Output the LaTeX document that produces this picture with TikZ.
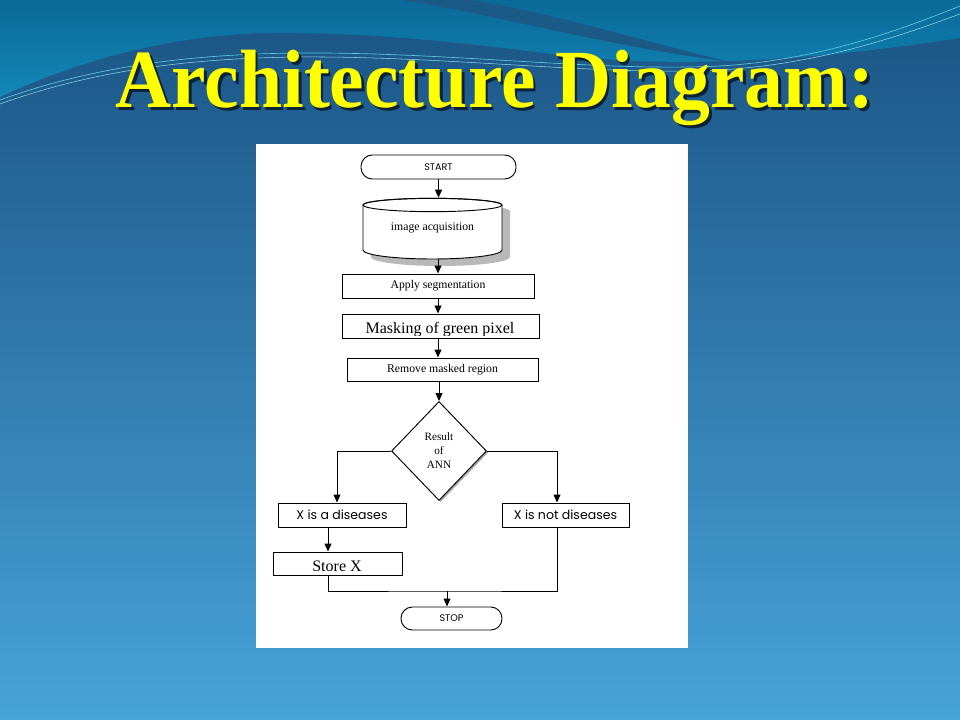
\documentclass[tikz,border=0pt]{standalone}
\usepackage{fontspec}
\setmainfont{Liberation Serif}
\newfontfamily\gothic{Poppins}
\usetikzlibrary{arrows.meta,shapes.geometric,shadows}
\definecolor{bgtop}{HTML}{1A5383}
\definecolor{bgmid}{HTML}{2E7DB3}
\definecolor{bgbot}{HTML}{48A3D9}
\definecolor{tealtop}{HTML}{0A6A99}
\definecolor{tealbot}{HTML}{1388B8}
\definecolor{swoosh}{HTML}{1B5A86}
\definecolor{wline}{HTML}{5CC8DC}
\definecolor{titley}{HTML}{FFFF00}
\definecolor{titlesh}{HTML}{0B2238}
\newcommand{\titletext}{\scalebox{0.94}[1]{Architecture Diagram:}}
\begin{document}
\begin{tikzpicture}[x=0.75pt,y=-0.75pt,
  ln/.style={line width=0.7pt},
  box/.style={draw,ln,fill=white,inner sep=0pt,minimum height=18pt,font=\fontsize{8.8}{10}\selectfont},
  term/.style={box,rounded corners=8.5pt,font=\gothic\fontsize{7.2}{9}\selectfont},
  sbox/.style={box,font=\gothic\fontsize{9.4}{11}\selectfont},
  arr/.style={ln,-{Triangle[length=6pt,width=5.2pt]}},
  titlef/.style={font=\bfseries\fontsize{62}{70}\selectfont}]
\useasboundingbox (0,0) rectangle (960,720);
% background
\shade[top color=bgtop, middle color=bgmid, bottom color=bgbot] (0,0) rectangle (960,720);
\shade[top color=tealtop, bottom color=tealbot]
  (0,0) -- (0,97) .. controls (80,60) and (170,35) .. (270,33)
  .. controls (380,32) and (480,45) .. (560,55)
  .. controls (650,66) and (780,66) .. (960,38) -- (960,0) -- cycle;
\fill[swoosh] (400,0) .. controls (500,15) and (600,45) .. (730,62)
  .. controls (620,35) and (540,10) .. (470,0) -- cycle;
\draw[wline, line width=0.5pt] (0,100) .. controls (100,64) and (200,54) .. (300,53)
  .. controls (450,52) and (600,72) .. (720,66) .. controls (820,60) and (900,30) .. (960,6);
\draw[wline!70!white, line width=0.4pt] (0,104) .. controls (100,68) and (200,58) .. (300,57)
  .. controls (450,56) and (600,76) .. (720,70) .. controls (820,64) and (900,36) .. (960,14);
% title (shadow drawn inside the same node)
\node[anchor=base, titlef, text=titley, inner sep=0pt] (title) at (495,108)
  {\makebox[0pt][l]{\hspace{2pt}\raisebox{-2pt}{\textcolor{titlesh}{\titletext}}}\titletext};
% white panel
\node[fill=white, inner sep=0pt, minimum width=324pt, minimum height=378pt, anchor=north west] (panel) at (256,144) {};
% flowchart
\node[term, minimum width=116.25pt] (start) at (438.5,167) {START};
% cylinder with shadow
\fill[gray!55] (371,211) -- (371,257) arc[start angle=180,end angle=360,x radius=52.125pt,y radius=6.75pt]
  -- (510,211) arc[start angle=0,end angle=180,x radius=52.125pt,y radius=5pt] -- cycle;
\draw[ln, fill=white] (363,205) -- (363,250) arc[start angle=180,end angle=360,x radius=52.125pt,y radius=6.75pt]
  -- (502,205) arc[start angle=0,end angle=180,x radius=52.125pt,y radius=5pt] -- cycle;
\draw[ln] (432.5,205) ellipse[x radius=52.125pt, y radius=5pt];
\node[inner sep=0pt, minimum width=104.25pt, minimum height=45.75pt, font=\fontsize{8.8}{10}\selectfont,
  text depth=0pt] (cyl) at (432.5,228.5) {\raisebox{3pt}{image acquisition}};
\node[box, minimum width=144pt] (seg) at (438,286) {Apply segmentation};
\node[box, minimum width=147.75pt] (mask) at (440.5,326) {};
\begin{scope}
  \clip ([yshift=2.4pt]mask.south west) rectangle (mask.north east);
  \node[anchor=base, inner sep=0pt, font=\fontsize{12}{14}\selectfont] (masktxt) at (440,334) {Masking of green pixel};
\end{scope}
\node[box, minimum width=143.25pt, minimum height=17.25pt] (rem) at (442.5,369.5) {Remove masked region};
\node[draw, ln, diamond, fill=white, minimum width=71.25pt, minimum height=74.25pt, inner sep=0pt,
  align=center, font=\fontsize{8.4}{10.5}\selectfont,
  drop shadow={shadow xshift=1.2pt, shadow yshift=-1.2pt, fill=gray!70, opacity=1}] (ann) at (439,451) {Result\\of\\ANN};
\node[sbox, minimum width=96pt] (xa) at (342,515) {X is a diseases};
\node[sbox, minimum width=95.25pt] (xn) at (565.5,515) {X is not diseases};
\node[box, minimum width=96.75pt, minimum height=17.25pt] (store) at (337.5,563.5) {};
\begin{scope}
  \clip ([yshift=3.4pt]store.south west) rectangle (store.north east);
  \node[anchor=base, inner sep=0pt, font=\fontsize{12}{14}\selectfont] (storetxt) at (337,571.5) {Store X};
\end{scope}
\node[term, minimum width=75.75pt, minimum height=17.25pt] (stop) at (451.5,618.5) {STOP};
\coordinate (merge) at (447,591);
% connectors
\draw[arr] (start.south) -- (start.south |- cyl.north);
\draw[arr] (cyl.south -| seg.north) -- (seg.north);
\draw[arr] (seg.south) -- (seg.south |- mask.north);
\draw[arr] (seg.south |- mask.south) -- (seg.south |- rem.north);
\draw[arr] (rem.south -| ann.north) -- (ann.north);
\draw[arr] (ann.west) -| ([xshift=-3.75pt]xa.north);
\draw[arr] (ann.east) -| ([xshift=-6.375pt]xn.north);
\draw[arr] ([xshift=-10.5pt]xa.south) -- ([xshift=-10.5pt]xa.south |- store.north);
\draw[ln] ([xshift=-7.125pt]store.south) |- (merge) -| ([xshift=-6.375pt]xn.south);
\draw[arr] (merge) -- (merge |- stop.north);
\end{tikzpicture}
\end{document}
